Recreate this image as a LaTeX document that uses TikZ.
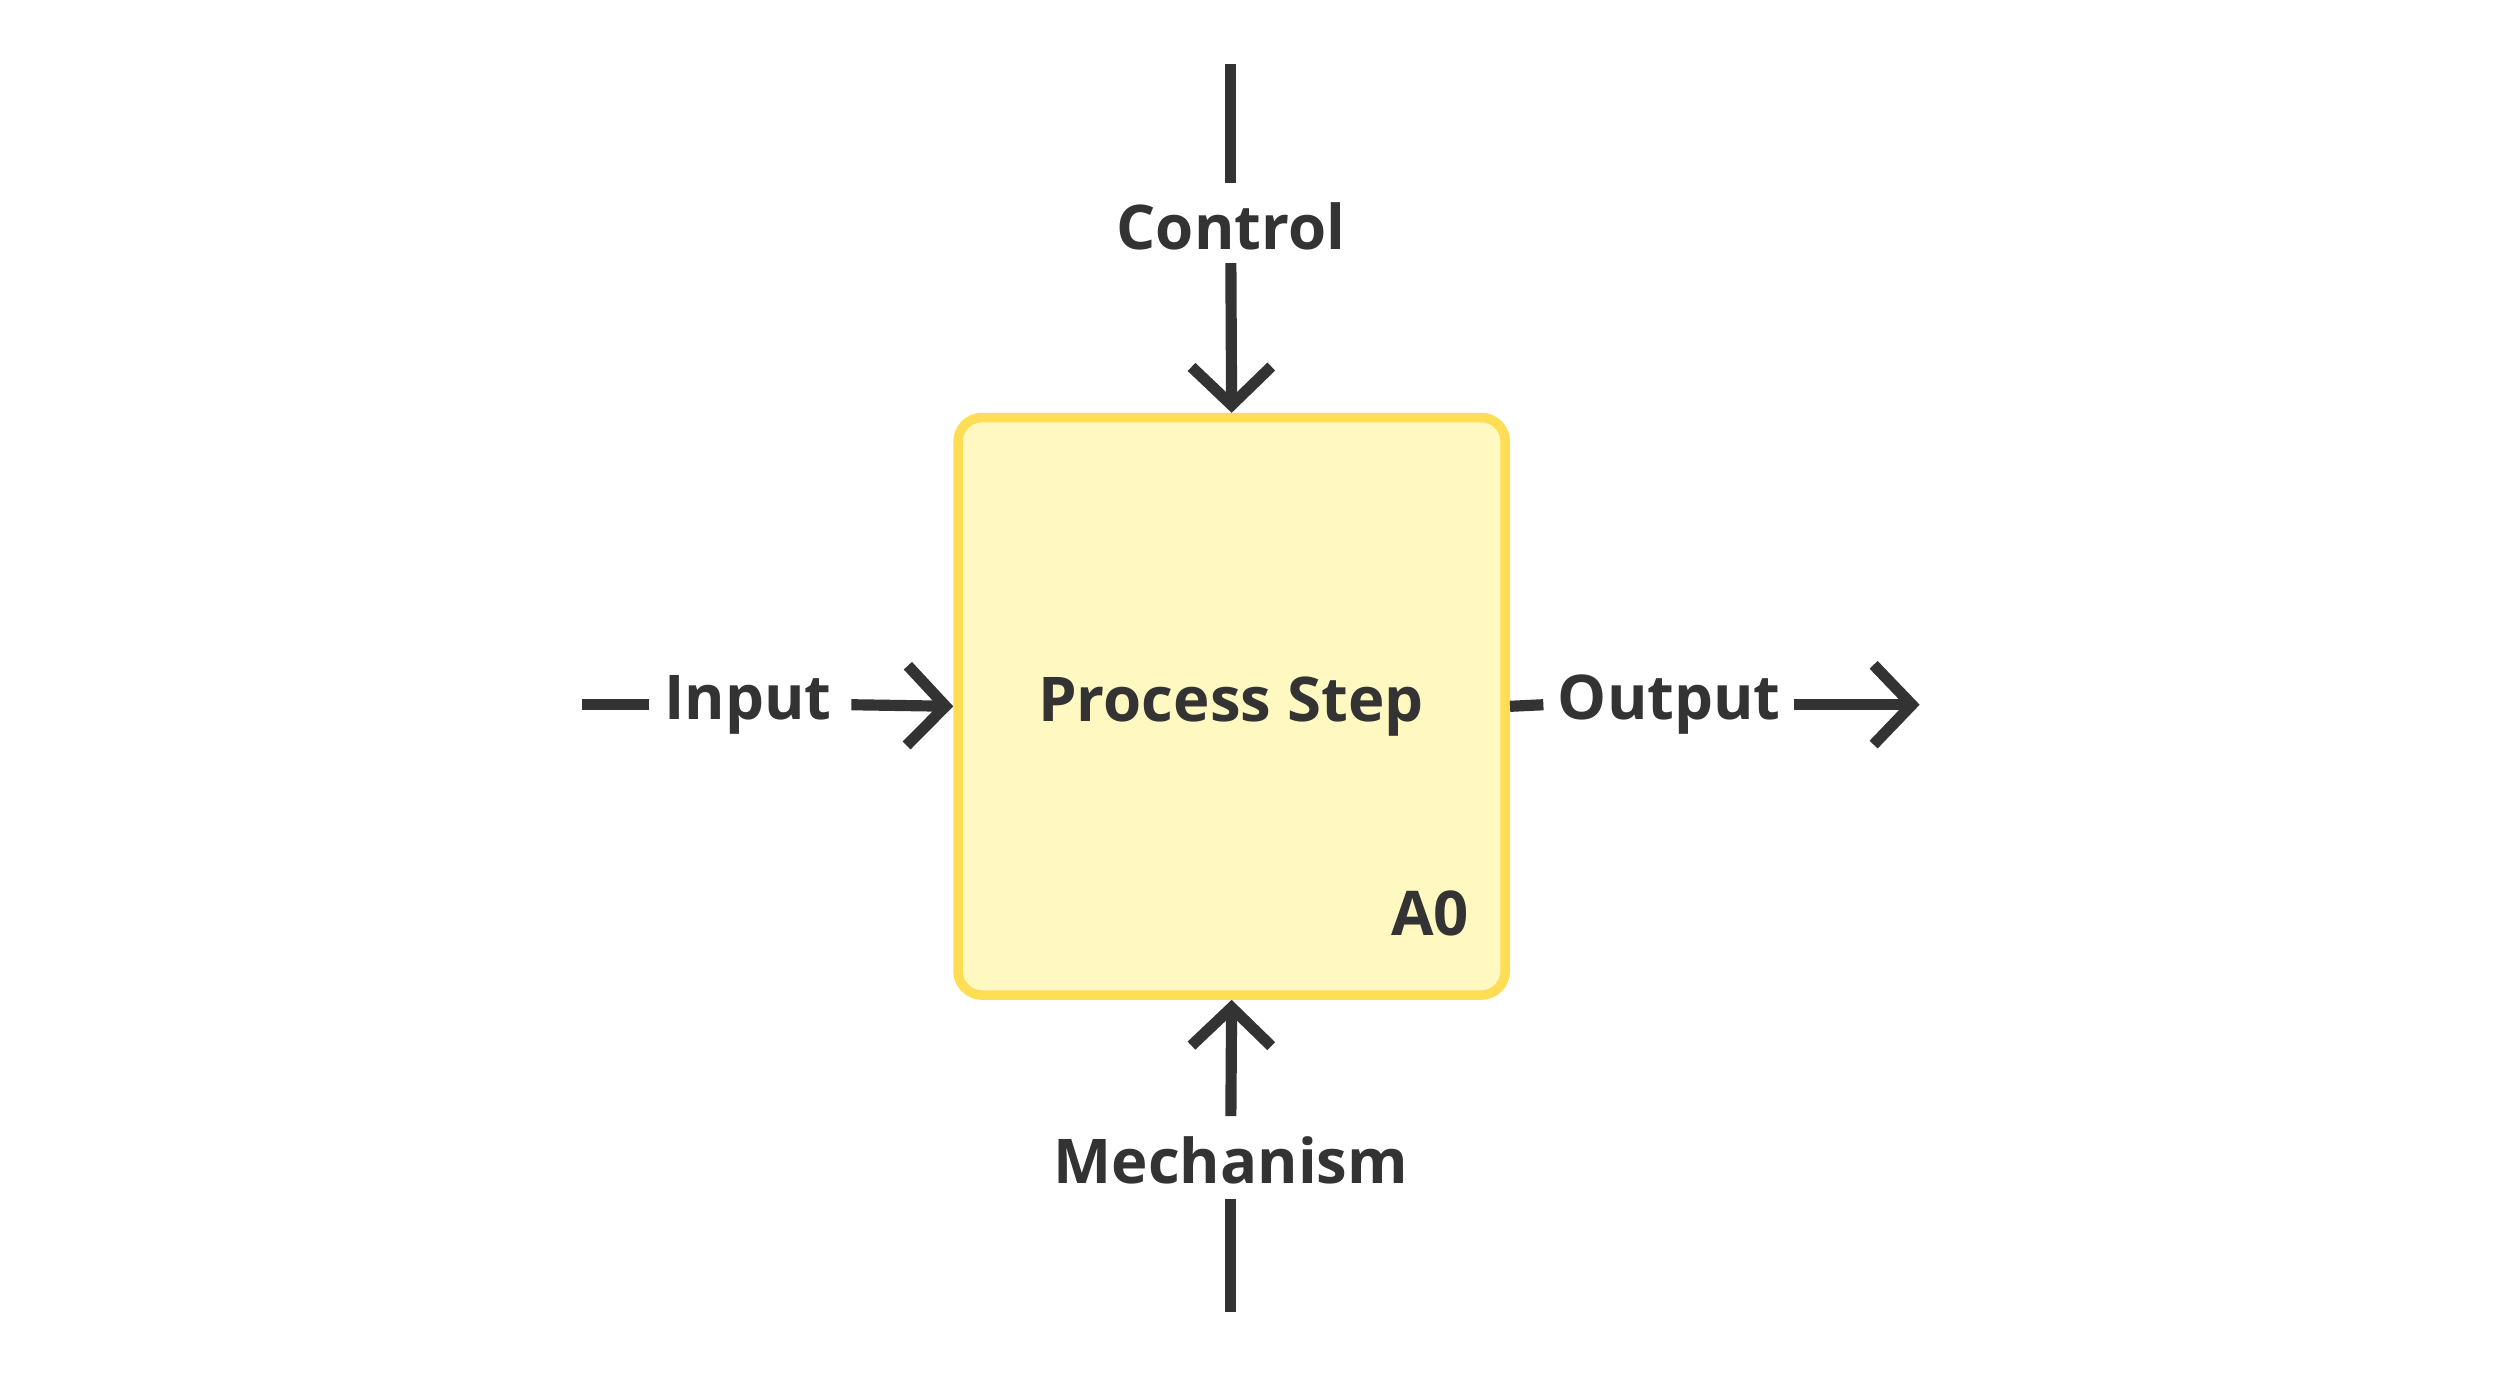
\documentclass[tikz,border=0pt]{standalone}
\usepackage{fontspec}
\setmainfont{Open Sans}
\usetikzlibrary{arrows.meta}
\definecolor{ink}{HTML}{333333}
\definecolor{boxfill}{HTML}{FFF8C0}
\definecolor{boxline}{HTML}{FFDD55}
\begin{document}
\begin{tikzpicture}[x=0.01cm,y=-0.01cm,
  lbl/.style={font=\fontsize{11}{13}\selectfont\bfseries, text=ink, inner sep=0pt},
  conn/.style={draw=ink, line width=0.07cm},
  arr/.style={conn, -{Straight Barb[length=0.24cm,width=0.5cm,line width=0.07cm]}}]
\useasboundingbox[fill=white] (0,0) rectangle (1568,875);
\node[draw=boxline, fill=boxfill, line width=0.06cm, rounded corners=0.15cm,
  minimum width=3.43cm, minimum height=3.62cm, inner sep=0pt] (box) at (772.5,443) {};
\node[lbl] (ps) at (772,443) {Process Step};
\node[lbl, anchor=base east] (a0) at (922,587) {A0};
\node[lbl] (ctl) at (772,142) {Control};
\node[lbl] (mech) at (772,728) {Mechanism};
\node[lbl] (inp) at (469,442) {Input};
\node[lbl] (out) at (1047,442) {Output};
\coordinate (ctop) at (772,40);
\coordinate (mbot) at (772,823);
\coordinate (ileft) at (365,442);
\coordinate (oright) at (1204,442);
\draw[conn] (ctop) -- (772,115);
\draw[arr] (772,165) -- (box.north);
\draw[conn] (mbot) -- (772,752);
\draw[arr] (772,700) -- (box.south);
\draw[conn] (ileft) -- (407,442);
\draw[arr] (534,442) -- (box.west);
\draw[conn] (box.east) -- (968,442);
\draw[arr] (1125,442) -- (oright);
\end{tikzpicture}
\end{document}
